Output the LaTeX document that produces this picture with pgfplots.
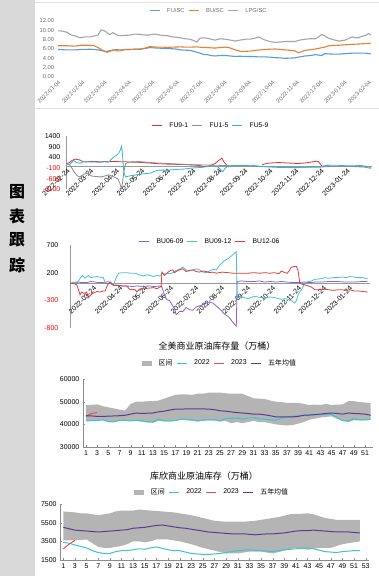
\documentclass[border=0pt]{standalone}
\usepackage{fontspec}
\setmainfont{Liberation Sans}
\newfontfamily\cjk{Noto Sans CJK SC}
\usepackage{pgfplots}
\pgfplotsset{compat=1.18}
\definecolor{sidebar}{HTML}{D9D9D9}
\definecolor{cA}{HTML}{5B9BD5}
\definecolor{cB}{HTML}{ED7D31}
\definecolor{cC}{HTML}{A5A5A5}
\definecolor{rR}{HTML}{E8302E}
\definecolor{rG}{HTML}{8C8C8C}
\definecolor{rC}{HTML}{2FB5E0}
\definecolor{pP}{HTML}{8A63C4}
\definecolor{pC}{HTML}{45C3D6}
\definecolor{pR}{HTML}{E03C3C}
\definecolor{band}{HTML}{B4B4B4}
\definecolor{iC}{HTML}{3CC4D2}
\definecolor{iR}{HTML}{E05050}
\definecolor{iP}{HTML}{5B3C91}
\definecolor{txtg}{HTML}{6F6F6F}
\pgfplotsset{
  base/.style={scale only axis, anchor=south west,
    /pgf/number format/assume math mode=true,
    scaled ticks=false,
    legend style={draw=none, fill=none, legend columns=-1, inner sep=0pt,
      /tikz/every even column/.append style={column sep=1.5bp},
      /tikz/every odd column/.append style={column sep=5bp}},
    legend image code/.code={\draw[##1] (0bp,0bp) -- (10bp,0bp);},
    major tick length=0pt},
  bandlegend/.style={legend image code/.code={\fill[band] (0bp,-2.5bp) rectangle (10bp,2.5bp);}},
}
\begin{document}
\begin{tikzpicture}
\useasboundingbox (0,0) rectangle (379bp,580bp);
\fill[white] (0,0) rectangle (379bp,580bp);
\fill[sidebar] (0,4bp) rectangle (35bp,580bp);
\draw[black!12, line width=0.4bp] (35bp,578bp) -- (379bp,578bp);
\draw[black!12, line width=0.4bp] (35bp,472bp) -- (379bp,472bp);
\node[font=\cjk\bfseries\fontsize{16}{16}\selectfont] at (17bp,388bp) {图};
\node[font=\cjk\bfseries\fontsize{16}{16}\selectfont] at (17bp,364bp) {表};
\node[font=\cjk\bfseries\fontsize{16}{16}\selectfont] at (17bp,340bp) {跟};
\node[font=\cjk\bfseries\fontsize{16}{16}\selectfont] at (17bp,315bp) {踪};

% ---------- Chart 1 ----------
\begin{axis}[base, at={(58bp,503bp)}, width=313bp, height=56bp,
  xmin=0, xmax=399, ymin=0, ymax=12,
  axis line style={draw=none},
  ytick={0,2,...,12},
  /pgf/number format/fixed, /pgf/number format/fixed zerofill, /pgf/number format/precision=2,
  xtick={0,31,59,90,120,151,181,212,243,273,304,334,365,396},
  xticklabels={2022-01-04,2022-02-04,2022-03-04,2022-04-04,2022-05-04,2022-06-04,2022-07-04,2022-08-04,2022-09-04,2022-10-04,2022-11-04,2022-12-04,2023-01-04,2023-02-04},
  tick label style={font=\fontsize{5.8}{6}\selectfont, text=txtg},
  xticklabel style={rotate=45, anchor=north east, inner sep=1.5bp},
  legend style={at={(0.482,1.184)}, anchor=center, font=\fontsize{5.8}{6}\selectfont, text=txtg},
  line width=1.1bp]
\draw[black!15, line width=0.5bp] (rel axis cs:0,0) -- (rel axis cs:1,0);
\addplot[cA] coordinates {(0,5.9)(6,5.85)(11,5.8)(17,5.8)(22,5.8)(28,5.9)(35,5.92)(41,5.95)(46,5.9)(51,5.8)(56,5.65)(60,5.55)(63,5.5)(66,5.65)(71,5.8)(75,5.85)(79,5.8)(85,5.85)(92,5.9)(98,5.95)(105,5.95)(111,6.1)(117,6.3)(122,6.25)(126,6.2)(133,6.15)(139,6.1)(146,6.05)(150,6.0)(156,5.8)(162,5.75)(168,5.7)(173,5.5)(177,5.3)(181,5.1)(186,4.8)(190,4.8)(195,4.6)(200,4.5)(207,4.6)(213,4.6)(220,4.5)(226,4.4)(232,4.45)(239,4.4)(245,4.4)(251,4.35)(258,4.3)(264,4.3)(270,4.25)(277,4.15)(283,4.1)(290,4.0)(296,4.05)(302,4.1)(308,4.3)(315,4.5)(322,4.6)(328,4.8)(332,4.7)(336,4.6)(340,5.0)(345,4.95)(351,4.9)(358,4.9)(366,5.0)(375,5.1)(383,5.1)(392,5.1)(396,5.0)(399,4.95)};
\addlegendentry{FU/SC}
\addplot[cB] coordinates {(0,6.7)(6,6.7)(11,6.7)(17,6.65)(22,6.6)(28,6.8)(35,6.8)(41,6.8)(46,6.7)(51,6.3)(56,5.8)(60,5.4)(63,5.3)(66,5.5)(71,5.8)(75,5.6)(79,5.6)(85,5.9)(92,5.9)(98,5.95)(105,6.0)(111,6.2)(117,6.5)(122,6.45)(126,6.4)(133,6.4)(139,6.35)(146,6.4)(156,6.45)(162,6.4)(168,6.4)(177,6.45)(183,6.35)(190,6.3)(200,6.2)(207,6.3)(213,6.4)(218,6.3)(222,6.05)(226,5.8)(232,5.5)(239,5.5)(245,5.55)(251,5.7)(258,5.8)(264,5.9)(270,5.95)(277,6.0)(283,5.9)(290,5.8)(296,5.7)(302,5.6)(306,5.2)(310,5.4)(315,5.7)(322,5.85)(328,6.0)(334,6.2)(340,6.4)(345,6.7)(351,6.75)(358,6.8)(366,6.9)(375,7.0)(387,7.1)(395,7.2)(399,7.25)};
\addlegendentry{BU/SC}
\addplot[cC] coordinates {(0,9.9)(5,9.85)(11,9.6)(17,9.0)(22,8.8)(28,8.4)(35,8.6)(41,8.6)(46,8.8)(51,9.0)(55,10.1)(58,10.0)(61,9.7)(64,9.3)(66,9.1)(70,9.5)(75,9.0)(79,8.85)(85,8.9)(92,9.0)(98,9.2)(105,9.1)(111,9.0)(117,9.0)(122,9.2)(126,9.1)(133,8.9)(139,8.85)(146,8.6)(156,8.4)(162,8.2)(168,8.1)(173,7.8)(177,7.5)(181,8.3)(186,8.4)(193,8.2)(200,7.9)(207,8.2)(213,8.1)(220,7.9)(226,7.7)(232,7.9)(239,8.1)(245,8.1)(251,8.3)(256,8.6)(260,8.2)(264,7.9)(270,7.6)(277,7.4)(283,7.5)(290,7.6)(296,7.6)(302,7.6)(308,7.9)(315,8.1)(322,8.2)(328,8.2)(333,8.7)(336,9.1)(340,8.8)(345,8.3)(351,8.0)(358,7.7)(362,7.8)(366,7.9)(371,8.3)(375,8.6)(379,8.4)(383,8.4)(387,8.7)(392,8.9)(396,9.3)(399,9.0)};
\addlegendentry{LPG/SC}
\end{axis}

% ---------- Chart 2 ----------
\begin{axis}[base, at={(66bp,390.7bp)}, width=306bp, height=53.3bp,
  xmin=-1, xmax=364, ymin=-1100, ymax=1400,
  axis x line*=middle, axis y line*=left,
  axis line style={black!40, line width=0.5bp},
  ytick={-1100,-600,-100,400,900,1400},
  yticklabels={\textcolor{red}{-1100},\textcolor{red}{-600},\textcolor{red}{-100},400,900,1400},
  xtick={0,28,59,89,120,150,181,212,242,273,303,334},
  xticklabels={2022-02-24,2022-03-24,2022-04-24,2022-05-24,2022-06-24,2022-07-24,2022-08-24,2022-09-24,2022-10-24,2022-11-24,2022-12-24,2023-01-24},
  tick label style={font=\fontsize{7}{8}\selectfont},
  yticklabel style={xshift=-2bp},
  xticklabel style={rotate=45, anchor=north east, inner sep=1bp},
  legend style={at={(0.474,1.19)}, anchor=center, font=\fontsize{6.8}{7}\selectfont},
  line width=0.8bp]
\addplot[rR] coordinates {(0,110)(3,150)(6,250)(10,320)(12,300)(15,280)(18,220)(22,180)(26,200)(30,210)(35,200)(40,190)(45,200)(50,195)(55,200)(60,200)(65,190)(70,190)(75,180)(80,170)(85,165)(90,160)(95,140)(100,130)(105,110)(110,100)(115,90)(120,80)(125,80)(130,70)(135,60)(140,60)(145,50)(150,40)(155,30)(160,0)(163,-50)(166,-20)(170,0)(174,60)(177,110)(181,250)(185,360)(187,200)(189,120)(191,0)(193,-60)};
\addlegendentry{FU9-1}
\addplot[rG] coordinates {(0,100)(3,60)(6,-100)(9,-300)(12,-450)(15,-520)(18,-450)(21,-380)(24,-350)(27,-420)(30,-480)(35,-500)(40,-520)(45,-480)(50,-420)(55,-500)(58,-550)(61,-620)(63,-800)(65,-1050)(66,-900)(68,-300)(70,100)(75,180)(85,200)(95,170)(105,140)(115,120)(125,100)(135,80)(145,60)(155,50)(165,40)(175,30)(185,20)(195,0)(210,10)(225,-20)(240,-40)(260,-50)(280,-60)(300,-70)(310,-40)(325,-20)(340,-30)(355,-60)(363,-120)};
\addlegendentry{FU1-5}
\addplot[rC] coordinates {(0,50)(4,80)(8,250)(12,150)(16,120)(20,200)(25,190)(30,180)(40,170)(45,190)(50,180)(53,300)(56,420)(59,480)(62,600)(64,750)(65,920)(66,700)(67,200)(68,-300)(70,-520)(75,-470)(80,-440)(90,-380)(100,-340)(105,-250)(110,-200)(120,-200)(130,-170)(140,-150)(150,-100)(160,-75)(170,-20)(175,0)(180,-50)(183,-150)(186,-280)(189,-100)(193,0)(200,20)(210,10)(220,30)(230,-20)(240,-50)(250,-70)(260,-80)(270,-80)(280,-70)(290,-50)(300,-40)(304,-10)(310,20)(320,30)(330,10)(340,0)(350,20)(357,-20)(363,-80)};
\addlegendentry{FU5-9}
\addplot[rR, forget plot] coordinates {(233,50)(236,90)(240,120)(245,140)(250,150)(255,150)(260,140)(265,130)(270,120)(275,110)(280,120)(285,140)(290,170)(295,200)(298,220)(300,200)(302,100)(304,0)};
\end{axis}

% ---------- Chart 3 ----------
\begin{axis}[base, at={(70bp,252bp)}, width=300bp, height=83bp,
  xmin=0, xmax=359, ymin=-800, ymax=700,
  axis x line*=middle, axis y line*=left,
  axis line style={black!40, line width=0.5bp},
  ytick={-800,-300,200,700},
  yticklabels={\textcolor{red}{-800},\textcolor{red}{-300},200,700},
  xtick={0,28,59,89,120,150,181,212,242,273,303,334},
  xticklabels={2022-02-24,2022-03-24,2022-04-24,2022-05-24,2022-06-24,2022-07-24,2022-08-24,2022-09-24,2022-10-24,2022-11-24,2022-12-24,2023-01-24},
  tick label style={font=\fontsize{7}{8}\selectfont},
  yticklabel style={xshift=-8bp},
  xticklabel style={rotate=45, anchor=north east, inner sep=1bp},
  legend style={at={(0.467,1.042)}, anchor=center, font=\fontsize{6.8}{7}\selectfont},
  line width=0.8bp]
\addplot[pP] coordinates {(0,10)(5,20)(10,30)(15,20)(20,20)(25,40)(30,30)(35,20)(40,20)(44,10)(48,10)(52,-25)(58,-30)(63,-40)(68,-40)(75,-50)(80,-40)(88,-50)(95,-40)(100,-50)(105,-45)(108,-40)(110,-60)(113,-200)(116,-290)(119,-300)(123,-400)(125,-450)(127,-560)(131,-500)(135,-500)(139,-430)(143,-470)(147,-480)(151,-420)(155,-400)(159,-380)(163,-350)(167,-330)(171,-350)(175,-400)(180,-470)(185,-550)(190,-600)(195,-700)(199,-770)(200,40)(205,50)(213,40)(220,40)(227,50)(233,30)(240,40)(247,30)(253,40)(260,30)(267,20)(273,20)(280,30)(287,20)(293,30)(300,30)(310,40)(320,40)(330,30)(340,30)(350,40)(356,40)};
\addlegendentry{BU06-09}
\addplot[pC] coordinates {(0,7)(5,20)(10,40)(12,97)(15,150)(18,100)(22,150)(25,110)(28,120)(32,130)(36,120)(40,110)(42,20)(45,40)(48,30)(52,-20)(55,100)(58,190)(63,200)(68,200)(73,190)(78,190)(83,160)(88,140)(92,160)(96,150)(100,130)(104,150)(108,140)(110,190)(116,190)(120,180)(123,200)(127,240)(131,260)(135,300)(139,250)(143,230)(147,250)(151,270)(155,250)(159,210)(163,200)(167,230)(171,260)(175,250)(180,350)(185,420)(189,450)(193,500)(196,540)(199,580)(200,-260)(204,-230)(208,-250)(213,-270)(218,-240)(222,-230)(228,-250)(233,-260)(239,-240)(245,-250)(249,-270)(253,-280)(258,-270)(262,-290)(265,-300)(269,-350)(271,-300)(273,-200)(275,-150)(277,-110)(280,-20)(283,30)(286,40)(289,50)(293,80)(300,90)(305,110)(310,100)(315,110)(320,110)(325,120)(330,110)(335,130)(340,120)(345,110)(350,110)(356,90)};
\addlegendentry{BU09-12}
\addplot[pR] coordinates {(0,7)(5,0)(8,-20)(10,-100)(12,-200)(14,-150)(16,-170)(18,-170)(20,-150)(22,-250)(25,-200)(28,-170)(32,-140)(36,-150)(40,-130)(42,-130)(45,-20)(48,30)(52,-30)(58,-30)(63,-40)(68,-40)(70,-80)(72,-110)(75,-100)(78,-110)(80,-150)(83,-100)(88,-80)(94,-80)(100,-70)(104,-90)(108,-60)(109,-60)(110,210)(113,150)(116,190)(120,240)(123,250)(125,200)(127,220)(131,250)(135,270)(139,220)(143,240)(147,250)(151,220)(155,210)(159,230)(163,220)(167,200)(171,210)(175,190)(182,210)(189,200)(195,190)(201,190)(207,190)(213,190)(220,200)(227,190)(233,200)(239,190)(245,200)(250,180)(253,230)(257,200)(260,190)(263,250)(265,300)(268,310)(271,310)(273,230)(275,10)(278,-10)(281,-20)(285,-40)(289,-60)(293,-110)(300,-110)(305,-100)(310,-110)(315,-120)(321,-110)(325,-110)(330,-120)(335,-110)(340,-130)(345,-130)(350,-140)(356,-150)};
\addlegendentry{BU12-06}
\end{axis}

% ---------- Chart 4 ----------
\node[font=\cjk\fontsize{9}{10}\selectfont] at (217bp,234bp) {全美商业原油库存量（万桶）};
\begin{axis}[base, at={(83.2bp,133bp)}, width=290.2bp, height=68bp,
  xmin=0.5, xmax=52.5, ymin=30000, ymax=60000,
  axis x line*=bottom, axis y line*=left,
  axis line style={black!45, line width=0.5bp},
  ytick={30000,40000,50000,60000},
  /pgf/number format/1000 sep={},
  xtick={1,3,...,51},
  tick label style={font=\fontsize{7}{8}\selectfont},
  major tick length=2bp, tick style={black!45},
  legend style={at={(0.471,1.235)}, anchor=center, font=\fontsize{7}{8}\selectfont},
  line width=1bp]
\addplot[fill=band, draw=none, bandlegend] coordinates {(1,48500)(2,48600)(3,48800)(4,48000)(5,47500)(6,47000)(7,46500)(8,46100)(9,49000)(10,50000)(11,50000)(12,50200)(13,50200)(14,50500)(15,51300)(16,52200)(17,53000)(18,53200)(19,53200)(20,53000)(21,53500)(22,53500)(23,54000)(24,54000)(25,54000)(26,53700)(27,53500)(28,53500)(29,53500)(30,52500)(31,51500)(32,51300)(33,51200)(34,50500)(35,50000)(36,49800)(37,49500)(38,49500)(39,49500)(40,49000)(41,48500)(42,48700)(43,48500)(44,49000)(45,48500)(46,48700)(47,48800)(48,50200)(49,50200)(50,49800)(51,49600)(52,49300)
(52,42000)(51,41700)(50,41800)(49,41800)(48,41000)(47,41500)(46,42500)(45,43500)(44,43300)(43,43000)(42,42500)(41,42000)(40,41000)(39,40300)(38,39700)(37,39500)(36,39700)(35,40000)(34,40500)(33,41000)(32,41000)(31,41500)(30,41000)(29,40500)(28,41000)(27,40500)(26,41500)(25,41300)(24,41700)(23,41800)(22,41500)(21,41300)(20,41500)(19,41800)(18,42000)(17,41500)(16,41300)(15,41300)(14,41500)(13,40700)(12,40800)(11,41200)(10,41500)(9,41500)(8,41500)(7,41500)(6,41000)(5,41000)(4,41800)(3,41700)(2,41500)(1,41500)} -- cycle;
\addlegendentry{\cjk 区间}
\addplot[iC] coordinates {(1,41500)(2,41600)(3,41700)(4,42000)(5,41200)(6,41100)(7,41800)(8,41700)(9,41500)(10,41800)(11,41500)(12,41200)(13,41000)(14,42300)(15,41500)(16,41500)(17,41700)(18,42300)(19,42100)(20,42000)(21,41500)(22,42000)(23,42000)(24,42000)(25,41500)(26,42500)(27,42700)(28,42800)(29,42300)(30,42700)(31,43000)(32,42500)(33,42300)(34,42000)(35,41800)(36,42800)(37,43200)(38,43500)(39,43700)(40,43900)(41,44000)(42,44200)(43,44300)(44,44500)(45,44400)(46,43000)(47,41700)(48,41500)(49,42500)(50,42000)(51,42000)(52,42200)};
\addlegendentry{2022}
\addplot[iR] coordinates {(1,43500)(2,44800)(3,45200)};
\addlegendentry{2023}
\addplot[iP] coordinates {(1,43800)(2,43700)(3,43500)(4,43500)(5,43600)(6,43700)(7,43800)(8,44000)(9,44500)(10,45000)(11,44800)(12,44900)(13,45000)(14,45500)(15,45800)(16,46300)(17,46700)(18,46700)(19,46800)(20,46800)(21,46800)(22,46800)(23,46700)(24,46500)(25,46000)(26,45800)(27,45500)(28,45200)(29,45000)(30,44800)(31,44500)(32,44500)(33,44200)(34,43800)(35,43300)(36,43300)(37,43300)(38,43300)(39,43500)(40,44000)(41,44100)(42,44300)(43,44500)(44,44800)(45,45000)(46,44800)(47,44500)(48,45000)(49,44800)(50,44700)(51,44500)(52,44000)};
\addlegendentry{\cjk 五年均值}
\end{axis}

% ---------- Chart 5 ----------
\node[font=\cjk\fontsize{9}{10}\selectfont] at (204bp,104bp) {库欣商业原油库存（万桶）};
\begin{axis}[base, at={(60.4bp,20bp)}, width=308.2bp, height=56bp,
  xmin=0.5, xmax=53.5, ymin=1500, ymax=7500,
  axis x line*=bottom, axis y line*=left,
  axis line style={black!45, line width=0.5bp},
  ytick={1500,3500,5500,7500},
  /pgf/number format/1000 sep={},
  xtick={1,3,...,53},
  tick label style={font=\fontsize{7}{8}\selectfont},
  major tick length=2bp, tick style={black!45},
  legend style={at={(0.492,1.214)}, anchor=center, font=\fontsize{7}{8}\selectfont},
  line width=1bp]
\addplot[fill=band, draw=none, bandlegend] coordinates {(1,6700)(2,6650)(3,6600)(4,6500)(5,6500)(6,6400)(7,6300)(8,6400)(9,6500)(10,6700)(11,6800)(12,6800)(13,6800)(14,6900)(15,6850)(16,6800)(17,6750)(18,6700)(19,6650)(20,6600)(21,6500)(22,6400)(23,6300)(24,6150)(25,6000)(26,5850)(27,5700)(28,5650)(29,5600)(30,5600)(31,5600)(32,5600)(33,5650)(34,5700)(35,5800)(36,5900)(37,6000)(38,6100)(39,6250)(40,6400)(41,6450)(42,6450)(43,6500)(44,6400)(45,6200)(46,6000)(47,5900)(48,5800)(49,5800)(50,5800)(51,5800)(52,5800)
(52,3500)(51,3400)(50,3300)(49,3200)(48,3000)(47,2800)(46,2800)(45,2800)(44,2700)(43,2600)(42,2700)(41,2800)(40,2650)(39,2500)(38,2350)(37,2200)(36,2300)(35,2400)(34,2400)(33,2400)(32,2300)(31,2200)(30,2200)(29,2200)(28,2350)(27,2500)(26,2650)(25,2800)(24,3000)(23,3200)(22,3350)(21,3500)(20,3600)(19,3700)(18,3700)(17,3700)(16,3500)(15,3400)(14,3500)(13,3500)(12,3200)(11,3000)(10,2900)(9,2800)(8,2800)(7,2900)(6,3300)(5,3700)(4,3650)(3,3600)(2,3600)(1,3600)} -- cycle;
\addlegendentry{\cjk 区间}
\addplot[iC] coordinates {(1,3400)(2,3300)(3,3100)(4,2950)(5,2800)(6,2500)(7,2300)(8,2200)(9,2200)(10,2400)(11,2500)(12,2500)(13,2600)(14,2700)(15,2650)(16,2800)(17,2900)(18,2750)(19,2600)(20,2500)(21,2500)(22,2350)(23,2200)(24,2150)(25,2100)(26,2100)(27,2150)(28,2200)(29,2300)(30,2400)(31,2500)(32,2550)(33,2600)(34,2550)(35,2500)(36,2450)(37,2400)(38,2500)(39,2600)(40,2650)(41,2700)(42,2750)(43,2800)(44,2700)(45,2550)(46,2400)(47,2350)(48,2300)(49,2400)(50,2450)(51,2500)(52,2500)};
\addlegendentry{2022}
\addplot[iR] coordinates {(1,2700)(2,3200)(3,3600)};
\addlegendentry{2023}
\addplot[iP] coordinates {(1,5000)(2,4850)(3,4700)(4,4650)(5,4600)(6,4550)(7,4500)(8,4550)(9,4600)(10,4650)(11,4700)(12,4750)(13,4900)(14,4950)(15,5000)(16,5100)(17,5200)(18,5250)(19,5150)(20,5050)(21,4950)(22,4900)(23,4800)(24,4700)(25,4600)(26,4500)(27,4450)(28,4400)(29,4350)(30,4300)(31,4300)(32,4300)(33,4250)(34,4200)(35,4250)(36,4300)(37,4300)(38,4350)(39,4400)(40,4500)(41,4600)(42,4650)(43,4650)(44,4700)(45,4650)(46,4600)(47,4550)(48,4500)(49,4500)(50,4500)(51,4450)(52,4400)};
\addlegendentry{\cjk 五年均值}
\end{axis}
\end{tikzpicture}
\end{document}
